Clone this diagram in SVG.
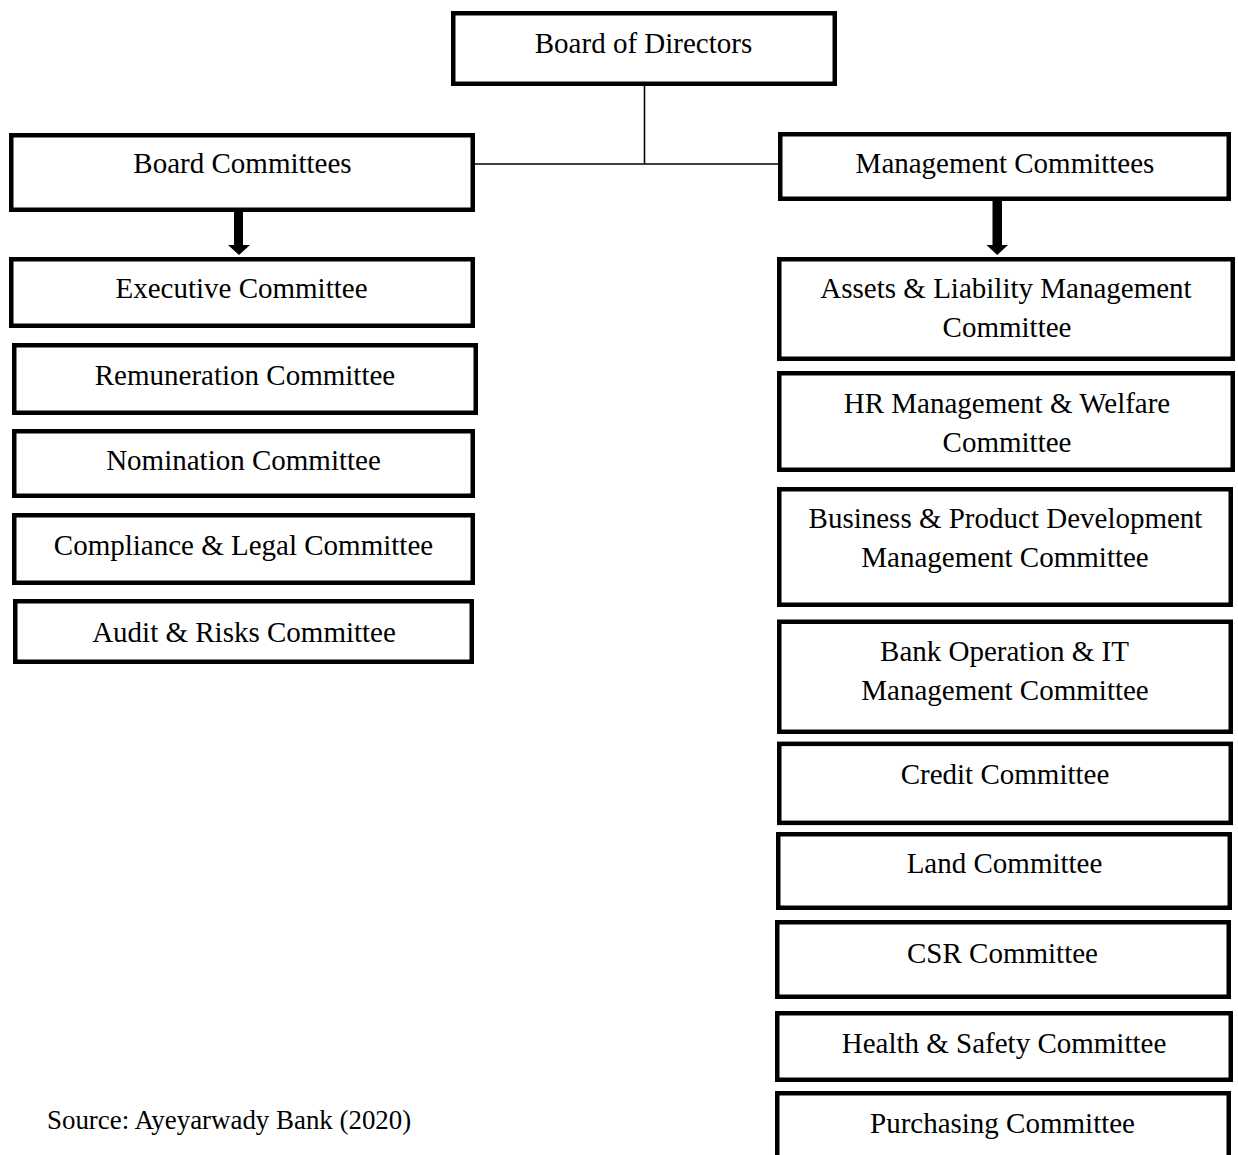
<svg xmlns="http://www.w3.org/2000/svg" width="1238" height="1155" viewBox="0 0 1238 1155">
<style>
.box{fill:#fff;stroke:#000;stroke-width:4.5}
.t{font-family:"Liberation Serif","Times New Roman",serif;font-size:29px;fill:#000;text-anchor:middle}
.src{font-family:"Liberation Serif","Times New Roman",serif;font-size:26.9px;fill:#000}
.ln{stroke:#000;stroke-width:1.6;fill:none}
</style>
<rect width="1238" height="1155" fill="#fff"/>
<g id="connectors">
<line class="ln" x1="644.5" y1="86" x2="644.5" y2="164"/>
<line class="ln" x1="475" y1="164" x2="779" y2="164"/>
<rect x="234" y="210" width="9" height="36" fill="#000"/>
<polygon points="228,245 250,245 239,255" fill="#000"/>
<rect x="992.5" y="199" width="9.5" height="47" fill="#000"/>
<polygon points="986.5,245 1008,245 997.2,255" fill="#000"/>
</g>
<g id="board-of-directors"><rect class="box" x="453.25" y="13.25" width="381.5" height="70.5"/><text class="t" x="643.5" y="53">Board of Directors</text></g>
<g id="board-committees"><rect class="box" x="11.25" y="135.25" width="461.5" height="74.5"/><text class="t" x="242.5" y="173">Board Committees</text></g>
<g id="executive-committee"><rect class="box" x="11.25" y="259.25" width="461.5" height="66.5"/><text class="t" x="241.5" y="298">Executive Committee</text></g>
<g id="remuneration-committee"><rect class="box" x="14.25" y="345.25" width="461.5" height="67.5"/><text class="t" x="245" y="385">Remuneration Committee</text></g>
<g id="nomination-committee"><rect class="box" x="14.25" y="431.25" width="458.5" height="64.5"/><text class="t" x="243.5" y="470">Nomination Committee</text></g>
<g id="compliance-legal-committee"><rect class="box" x="14.25" y="515.25" width="458.5" height="67.5"/><text class="t" x="243.5" y="555">Compliance &amp; Legal Committee</text></g>
<g id="audit-risks-committee"><rect class="box" x="15.25" y="601.25" width="456.5" height="60.5"/><text class="t" x="244" y="642">Audit &amp; Risks Committee</text></g>
<g id="management-committees"><rect class="box" x="780.25" y="134.25" width="448.5" height="64.5"/><text class="t" x="1005" y="173">Management Committees</text></g>
<g id="assets-liability"><rect class="box" x="779.25" y="259.25" width="453.5" height="99.5"/><text class="t" x="1006" y="298">Assets &amp; Liability Management</text><text class="t" x="1007" y="337">Committee</text></g>
<g id="hr-welfare"><rect class="box" x="779.25" y="373.25" width="453.5" height="96.5"/><text class="t" x="1007" y="413">HR Management &amp; Welfare</text><text class="t" x="1007" y="452">Committee</text></g>
<g id="business-product"><rect class="box" x="779.25" y="489.25" width="451.5" height="115.5"/><text class="t" x="1005.5" y="528">Business &amp; Product Development</text><text class="t" x="1005" y="567">Management Committee</text></g>
<g id="bank-operation-it"><rect class="box" x="779.25" y="621.75" width="451.5" height="110"/><text class="t" x="1004.5" y="661">Bank Operation &amp; IT</text><text class="t" x="1005" y="700">Management Committee</text></g>
<g id="credit-committee"><rect class="box" x="779.25" y="743.85" width="451.5" height="79"/><text class="t" x="1005" y="784">Credit Committee</text></g>
<g id="land-committee"><rect class="box" x="778.25" y="834.25" width="451.5" height="73.5"/><text class="t" x="1004.5" y="873">Land Committee</text></g>
<g id="csr-committee"><rect class="box" x="777.25" y="922.25" width="451.5" height="74.5"/><text class="t" x="1002.5" y="963">CSR Committee</text></g>
<g id="health-safety-committee"><rect class="box" x="777.25" y="1013.25" width="453.5" height="66.5"/><text class="t" x="1004" y="1053">Health &amp; Safety Committee</text></g>
<g id="purchasing-committee"><rect class="box" x="777.25" y="1093.25" width="451.5" height="80"/><text class="t" x="1002.5" y="1133">Purchasing Committee</text></g>
<text class="src" x="47" y="1129">Source: Ayeyarwady Bank (2020)</text>
</svg>
